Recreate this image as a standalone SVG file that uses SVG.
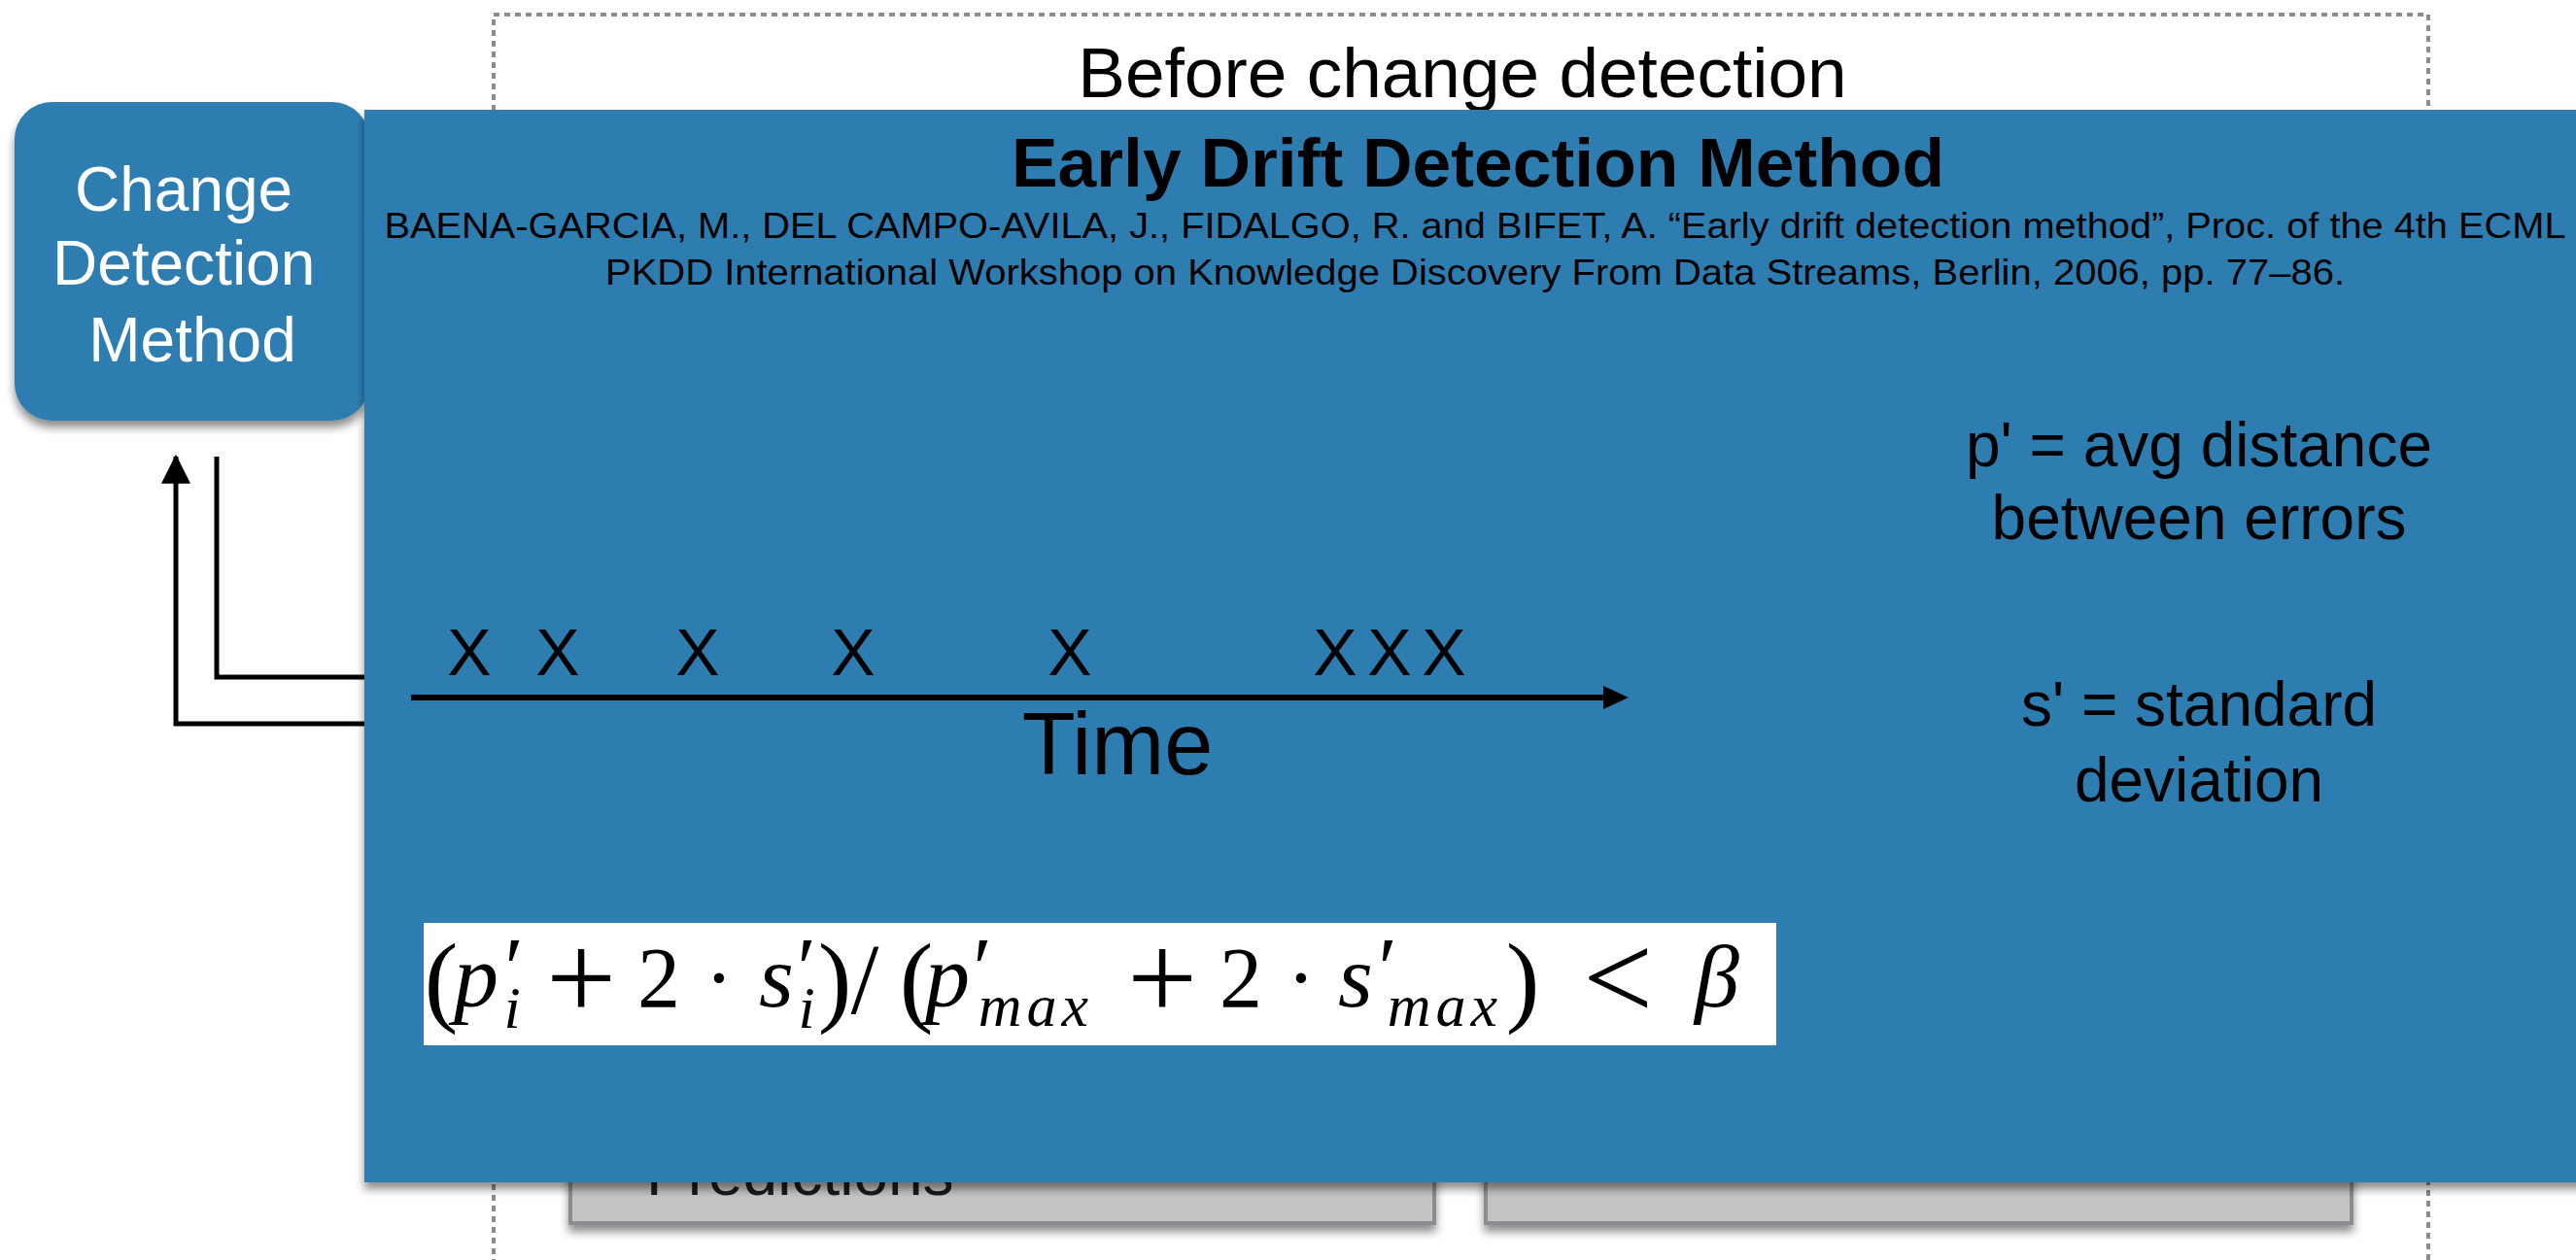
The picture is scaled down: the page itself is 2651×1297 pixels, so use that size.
<svg xmlns="http://www.w3.org/2000/svg" width="2651" height="1297" viewBox="0 0 2651 1297">
<style>
.sans{font-family:"Liberation Sans",Arial,sans-serif}
.dark{fill:#000}
.white{fill:#fff}
.blue{fill:#2e7db1}
.gray{fill:#c4c4c4;stroke:#8a8d91;stroke-width:4}
.conn{fill:none;stroke:#000;stroke-width:5}
.math{font-family:"Liberation Serif","Times New Roman",serif;fill:#000}
.it{font-style:italic}
.op{font-size:128px}
.var{font-size:92px;font-style:italic}
.sub{font-size:62px;font-style:italic}
.par{font-size:104px}
</style>
<defs>
<filter id="sh" x="-10%" y="-10%" width="120%" height="130%">
<feDropShadow dx="0" dy="7" stdDeviation="5" flood-color="#000" flood-opacity="0.45"/>
</filter>
<marker id="arr" markerUnits="userSpaceOnUse" markerWidth="30" markerHeight="30" viewBox="0 0 26 26" refX="24" refY="13" orient="auto">
<path d="M0,0 L26,13 L0,26 Z" fill="#000"/>
</marker>
</defs>
<rect width="2651" height="1297" fill="#fff"/>

<g id="frame">
<rect x="508" y="15" width="1991" height="1320" fill="none" stroke="#8c8c8c" stroke-width="4" stroke-dasharray="6 5"/>
<text class="sans dark" x="1505" y="100" font-size="73" text-anchor="middle">Before change detection</text>
</g>

<g id="predictions">
<rect class="gray" x="587" y="1150" width="889" height="109" filter="url(#sh)"/>
<text class="sans" fill="#1a1a1a" x="665" y="1230" font-size="64">Predictions</text>
</g>
<g id="box-right">
<rect class="gray" x="1529" y="1150" width="891" height="109" filter="url(#sh)"/>
</g>

<g id="connectors">
<path class="conn" d="M400,745 H181 V470" marker-end="url(#arr)"/>
<path class="conn" d="M400,697 H223 V470"/>
</g>

<g id="change-detection-method">
<rect x="15" y="105" width="365" height="328" rx="38" ry="38" class="blue" filter="url(#sh)"/>
<text class="sans white" font-size="64" text-anchor="middle">
<tspan x="198" y="217">Change</tspan>
<tspan x="198" y="293">Detection</tspan>
<tspan x="198" y="372">Method</tspan>
</text>
</g>

<g id="edd-panel">
<rect x="375" y="113" width="2330" height="1104" class="blue" filter="url(#sh)"/>
<text class="sans dark" x="1521" y="192" font-size="70" font-weight="bold" text-anchor="middle" textLength="960" lengthAdjust="spacingAndGlyphs">Early Drift Detection Method</text>
<text class="sans dark" x="1518" y="245" font-size="36" text-anchor="middle" textLength="2245" lengthAdjust="spacingAndGlyphs">BAENA-GARCIA, M., DEL CAMPO-AVILA, J., FIDALGO, R. and BIFET, A. “Early drift detection method”, Proc. of the 4th ECML</text>
<text class="sans dark" x="1518" y="293" font-size="36" text-anchor="middle" textLength="1790" lengthAdjust="spacingAndGlyphs">PKDD International Workshop on Knowledge Discovery From Data Streams, Berlin, 2006, pp. 77–86.</text>

<g id="timeline">
<line x1="423" y1="718" x2="1652" y2="718" stroke="#000" stroke-width="6"/>
<path d="M1650,706 L1676,718 L1650,730 Z" fill="#000"/>
<g class="sans dark" font-size="68" text-anchor="middle">
<text x="483" y="695">X</text>
<text x="574" y="695">X</text>
<text x="718" y="695">X</text>
<text x="878" y="695">X</text>
<text x="1101" y="695">X</text>
<text x="1374" y="695">X</text>
<text x="1430" y="695">X</text>
<text x="1486" y="695">X</text>
</g>
<text class="sans dark" x="1150" y="797" font-size="90" text-anchor="middle">Time</text>
</g>

<g class="sans dark" font-size="64" text-anchor="middle">
<text x="2263" y="480">p' = avg distance</text>
<text x="2263" y="555">between errors</text>
<text x="2263" y="747">s' = standard</text>
<text x="2263" y="825">deviation</text>
</g>

<g id="formula">
<rect x="436" y="950" width="1392" height="126" fill="#fff"/>
<text class="math" text-anchor="middle" font-size="88"><tspan x="454" y="1043" class="par">(</tspan><tspan x="490" y="1036" class="var">p</tspan><tspan x="529" y="1026">′</tspan><tspan x="527" y="1058" class="sub">i</tspan><tspan x="598" y="1049" class="op">+</tspan><tspan x="678" y="1036">2</tspan><tspan x="740" y="1036">·</tspan><tspan x="799" y="1036" class="var">s</tspan><tspan x="830" y="1026">′</tspan><tspan x="830" y="1058" class="sub">i</tspan><tspan x="859" y="1043" class="par">)</tspan><tspan x="890" y="1043" class="par">/</tspan><tspan x="943" y="1043" class="par">(</tspan><tspan x="975" y="1036" class="var">p</tspan><tspan x="1011" y="1026">′</tspan><tspan x="1066" y="1056" class="sub" letter-spacing="5">max</tspan><tspan x="1196" y="1049" class="op">+</tspan><tspan x="1277" y="1036">2</tspan><tspan x="1339" y="1036">·</tspan><tspan x="1395" y="1036" class="var">s</tspan><tspan x="1428" y="1026">′</tspan><tspan x="1487" y="1056" class="sub" letter-spacing="5">max</tspan><tspan x="1567" y="1043" class="par">)</tspan><tspan x="1665" y="1049" class="op">&lt;</tspan><tspan x="1767" y="1036" class="var">β</tspan></text>
</g>
</g>
</svg>
